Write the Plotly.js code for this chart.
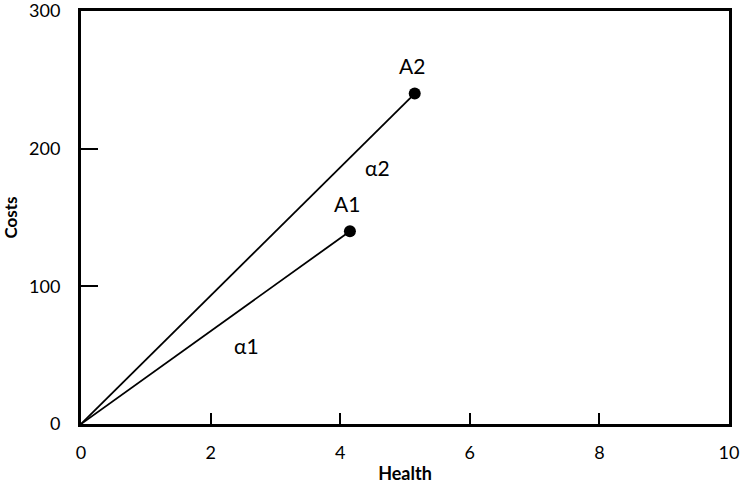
<!DOCTYPE html>
<html>
<head>
<meta charset="utf-8">
<script src="https://cdn.plot.ly/plotly-3.0.1.min.js"></script>
<style>html,body{margin:0;padding:0;background:#fff;}#chart{width:744px;height:484px;}</style>
</head>
<body>
<div id="chart"></div>
<script>
// Data
const pointNames = ["A1", "A2"];
const health = [4.15, 5.15];
const costs = [140, 240];
const angleLabels = ["α1", "α2"];
const angleX = [2.55, 4.57];
const angleY = [57, 186];
const xTicks = [0, 2, 4, 6, 8, 10];
const yTicks = [0, 100, 200, 300];

const FONT = "Lato, 'Noto Sans', sans-serif";

const traces = [];
pointNames.forEach((n, i) => {
  traces.push({
    x: [0, health[i]], y: [0, costs[i]],
    mode: "lines", line: {color: "#000", width: 1.8},
    hoverinfo: "skip", showlegend: false
  });
});
traces.push({
  x: health, y: costs, mode: "markers",
  marker: {color: "#000", size: 12},
  showlegend: false
});

const annotations = [];
pointNames.forEach((n, i) => {
  annotations.push({
    x: health[i], y: costs[i], xref: "x", yref: "y",
    text: n, showarrow: false, yshift: 28, xshift: -3,
    font: {family: FONT, size: 21, color: "#000"}
  });
});
angleLabels.forEach((t, i) => {
  annotations.push({
    x: angleX[i], y: angleY[i], xref: "x", yref: "y",
    text: t, showarrow: false,
    font: {family: FONT, size: 21, color: "#000"}
  });
});

const layout = {
  width: 744, height: 484,
  margin: {l: 81, r: 15, t: 11, b: 60},
  paper_bgcolor: "#fff", plot_bgcolor: "#fff",
  showlegend: false,
  xaxis: {
    range: [0, 10], tickvals: xTicks, ticktext: xTicks.map(String),
    showgrid: false, zeroline: false,
    showline: true, mirror: true, linecolor: "#000", linewidth: 3,
    ticks: "inside", ticklen: 11, tickwidth: 2, tickcolor: "#000",
    ticklabelstandoff: 10, ticklabeloverflow: "allow",
    tickfont: {family: FONT, size: 18, color: "#000"},
    title: {text: "<b>Health</b>", font: {family: FONT, size: 18, color: "#000"}, standoff: 10}
  },
  yaxis: {
    range: [0, 300], tickvals: yTicks, ticktext: yTicks.map(String),
    showgrid: false, zeroline: false,
    showline: true, mirror: true, linecolor: "#000", linewidth: 3,
    ticks: "inside", ticklen: 17, tickwidth: 2, tickcolor: "#000",
    ticklabelstandoff: 14, ticklabeloverflow: "allow",
    tickfont: {family: FONT, size: 18, color: "#000"},
    title: {text: "<b>Costs</b>", font: {family: FONT, size: 17, color: "#000"}, standoff: 12}
  },
  annotations: annotations
};

Plotly.newPlot("chart", traces, layout, {displayModeBar: false, staticPlot: true});
</script>
</body>
</html>
